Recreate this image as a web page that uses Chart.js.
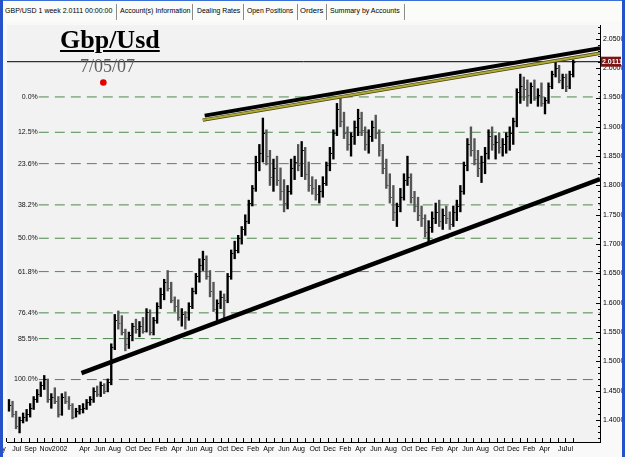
<!DOCTYPE html>
<html>
<head>
<meta charset="utf-8">
<script src="https://cdn.jsdelivr.net/npm/chart.js@4.4.1/dist/chart.umd.min.js"></script>
<style>
  html, body { margin: 0; padding: 0; }
  body { width: 625px; height: 457px; overflow: hidden; position: relative; background: #f8f8f8; font-family: "Liberation Sans", Arial, sans-serif; }
  #tabs { position: absolute; left: 0; top: 0; width: 625px; height: 21px; background: #fbfbf8; border-top: 1px solid #3d6fd8; box-sizing: border-box; }
  .tab { position: absolute; top: 5px; font-size: 8px; color: #000; white-space: nowrap; transform-origin: 0 50%; }
  .sep { position: absolute; top: 3px; width: 1px; height: 16px; background: #8a8a8a; border-right: 1px solid #fff; }
  #leftEdge { position: absolute; left: 0; top: 0; width: 3px; height: 457px; background: #2552c8; }
  #rightEdge { position: absolute; left: 622px; top: 0; width: 3px; height: 457px; background: #2552c8; }
  #chartBox { position: absolute; left: 3px; top: 21px; width: 619px; height: 436px; }
  #title { position: absolute; left: 60px; top: 27px; font: bold 26px/26px "Liberation Serif", "Times New Roman", serif; text-decoration: underline; color: #000; }
  #date { position: absolute; left: 80px; top: 57px; font: 18px/18px "Liberation Serif", "Times New Roman", serif; color: #5e5e5e; }
</style>
</head>
<body>
<div id="tabs">
  <span class="tab" data-w="107" style="left:5px">GBP/USD 1 week 2.0111 00:00:00</span>
  <div class="sep" style="left:116px"></div>
  <span class="tab" data-w="70" style="left:120px">Account(s) Information</span>
  <div class="sep" style="left:192px"></div>
  <span class="tab" data-w="43" style="left:197px">Dealing Rates</span>
  <div class="sep" style="left:243px"></div>
  <span class="tab" data-w="46" style="left:247px">Open Positions</span>
  <div class="sep" style="left:297px"></div>
  <span class="tab" data-w="23" style="left:300px">Orders</span>
  <div class="sep" style="left:326px"></div>
  <span class="tab" data-w="70" style="left:330px">Summary by Accounts</span>
  <div class="sep" style="left:404px"></div>
</div>
<div id="leftEdge"></div>
<div id="rightEdge"></div>
<div id="chartBox"><canvas id="myChart" width="619" height="436"></canvas></div>
<div id="title">Gbp/Usd</div>
<div id="date">7/05/07</div>

<script>
// squeeze tab captions into the widths of the original strip
document.querySelectorAll('.tab').forEach(el => {
  el.style.transform = 'scaleX(' + (el.dataset.w / el.offsetWidth) + ')'
})

// biweekly bars, first one is the week of 14 May 2001
const firstWeek = '2001-05-14'
const highs = [
  1.435, 1.432, 1.415, 1.405, 1.412, 1.418, 1.428, 1.440, 1.452, 1.465,
  1.476, 1.470, 1.445, 1.455, 1.440, 1.445, 1.448, 1.440, 1.428, 1.420,
  1.425, 1.428, 1.435, 1.440, 1.455, 1.458, 1.465, 1.462, 1.470, 1.530,
  1.580, 1.586, 1.578, 1.555, 1.550, 1.565, 1.572, 1.568, 1.575, 1.590,
  1.588, 1.575, 1.600, 1.625, 1.640, 1.655, 1.635, 1.610, 1.605, 1.590,
  1.585, 1.600, 1.625, 1.650, 1.675, 1.688, 1.680, 1.655, 1.635, 1.605,
  1.620, 1.615, 1.650, 1.690, 1.705, 1.715, 1.730, 1.750, 1.775, 1.800,
  1.850, 1.870, 1.915, 1.895, 1.860, 1.845, 1.850, 1.830, 1.810, 1.800,
  1.845, 1.850, 1.870, 1.875, 1.865, 1.840, 1.815, 1.810, 1.800, 1.815,
  1.840, 1.865, 1.895, 1.940, 1.951, 1.925, 1.900, 1.890, 1.910, 1.930,
  1.925, 1.900, 1.895, 1.910, 1.920, 1.895, 1.870, 1.845, 1.820, 1.800,
  1.770, 1.795, 1.820, 1.850, 1.820, 1.790, 1.780, 1.765, 1.750, 1.740,
  1.755, 1.770, 1.775, 1.760, 1.765, 1.755, 1.765, 1.775, 1.800, 1.840,
  1.880, 1.900, 1.880, 1.860, 1.850, 1.865, 1.895, 1.900, 1.885, 1.890,
  1.880, 1.890, 1.900, 1.915, 1.965, 1.990, 1.985, 1.980, 1.975, 1.980,
  1.965, 1.975, 1.950, 1.975, 1.995, 2.012, 2.005, 1.990, 1.990, 1.995,
  2.014
]
const lows = [
  1.415, 1.405, 1.385, 1.378, 1.395, 1.398, 1.405, 1.418, 1.430, 1.440,
  1.452, 1.430, 1.420, 1.428, 1.405, 1.408, 1.428, 1.418, 1.402, 1.405,
  1.410, 1.412, 1.418, 1.425, 1.430, 1.440, 1.440, 1.445, 1.448, 1.460,
  1.520, 1.555, 1.545, 1.518, 1.522, 1.535, 1.548, 1.542, 1.548, 1.550,
  1.545, 1.545, 1.565, 1.590, 1.605, 1.620, 1.600, 1.585, 1.570, 1.560,
  1.555, 1.570, 1.590, 1.615, 1.635, 1.655, 1.640, 1.610, 1.585, 1.570,
  1.590, 1.570, 1.600, 1.640, 1.675, 1.685, 1.700, 1.715, 1.735, 1.765,
  1.790, 1.825, 1.840, 1.835, 1.800, 1.790, 1.800, 1.775, 1.755, 1.760,
  1.785, 1.810, 1.825, 1.815, 1.810, 1.790, 1.785, 1.775, 1.770, 1.780,
  1.800, 1.825, 1.845, 1.885, 1.900, 1.880, 1.860, 1.850, 1.870, 1.885,
  1.885, 1.860, 1.855, 1.875, 1.880, 1.850, 1.820, 1.795, 1.770, 1.740,
  1.730, 1.755, 1.775, 1.800, 1.770, 1.755, 1.740, 1.730, 1.712, 1.705,
  1.720, 1.735, 1.730, 1.725, 1.735, 1.725, 1.730, 1.740, 1.755, 1.785,
  1.825, 1.850, 1.835, 1.815, 1.805, 1.820, 1.845, 1.860, 1.845, 1.855,
  1.850, 1.855, 1.860, 1.870, 1.900, 1.940, 1.945, 1.935, 1.940, 1.945,
  1.935, 1.935, 1.922, 1.940, 1.965, 1.985, 1.975, 1.965, 1.960, 1.965,
  1.985
]
const closes = [
  1.425, 1.410, 1.390, 1.400, 1.405, 1.410, 1.420, 1.435, 1.445, 1.460,
  1.470, 1.435, 1.440, 1.432, 1.410, 1.440, 1.432, 1.425, 1.405, 1.415,
  1.418, 1.420, 1.430, 1.435, 1.450, 1.445, 1.460, 1.450, 1.465, 1.525,
  1.570, 1.565, 1.550, 1.530, 1.545, 1.560, 1.555, 1.560, 1.552, 1.585,
  1.550, 1.570, 1.595, 1.615, 1.635, 1.625, 1.605, 1.595, 1.575, 1.580,
  1.575, 1.595, 1.620, 1.645, 1.665, 1.675, 1.645, 1.620, 1.590, 1.600,
  1.610, 1.605, 1.645, 1.685, 1.690, 1.710, 1.725, 1.740, 1.770, 1.795,
  1.840, 1.855, 1.890, 1.850, 1.815, 1.830, 1.810, 1.790, 1.770, 1.790,
  1.830, 1.840, 1.835, 1.860, 1.820, 1.800, 1.795, 1.785, 1.790, 1.805,
  1.835, 1.855, 1.890, 1.930, 1.910, 1.890, 1.870, 1.885, 1.900, 1.915,
  1.895, 1.870, 1.885, 1.900, 1.890, 1.860, 1.830, 1.800, 1.780, 1.755,
  1.765, 1.780, 1.810, 1.815, 1.780, 1.765, 1.750, 1.745, 1.720, 1.730,
  1.745, 1.755, 1.740, 1.750, 1.745, 1.735, 1.755, 1.765, 1.790, 1.835,
  1.870, 1.860, 1.845, 1.830, 1.840, 1.855, 1.885, 1.870, 1.875, 1.865,
  1.870, 1.885, 1.890, 1.910, 1.960, 1.970, 1.965, 1.955, 1.970, 1.950,
  1.955, 1.940, 1.945, 1.970, 1.990, 2.000, 1.980, 1.985, 1.970, 1.990,
  2.011
]
const lastPrice = 2.0111

// x axis labels (every other month, as shown)
const tickMonths = [
  '2001-05', '2001-07', '2001-09', '2001-11', '2002-01', '2002-04', '2002-06', '2002-08', '2002-10', '2002-12',
  '2003-02', '2003-04', '2003-06', '2003-08', '2003-10', '2003-12',
  '2004-02', '2004-04', '2004-06', '2004-08', '2004-10', '2004-12',
  '2005-02', '2005-04', '2005-06', '2005-08', '2005-10', '2005-12',
  '2006-02', '2006-04', '2006-06', '2006-08', '2006-10', '2006-12',
  '2007-02', '2007-04', '2007-06', '2007-07'
]
const tickLabels = [
  'May', 'Jul', 'Sep', 'Nov', '2002', 'Apr', 'Jun', 'Aug', 'Oct', 'Dec',
  'Feb', 'Apr', 'Jun', 'Aug', 'Oct', 'Dec',
  'Feb', 'Apr', 'Jun', 'Aug', 'Oct', 'Dec',
  'Feb', 'Apr', 'Jun', 'Aug', 'Oct', 'Dec',
  'Feb', 'Apr', 'Jun', 'Aug', 'Oct', 'Dec',
  'Feb', 'Apr', 'Ju', 'Jul'
]
const priceLabels = ['1.4000', '1.4500', '1.5000', '1.5500', '1.6000', '1.6500', '1.7000',
  '1.7500', '1.8000', '1.8500', '1.9000', '1.9500', '2.0000', '2.0500']

// fibonacci retracement drawn on the chart
const fibHigh = 1.951
const fibLow = 1.469
const fibRatios = [0, 0.125, 0.236, 0.382, 0.5, 0.618, 0.764, 0.855, 1]
const fibLabels = ['0.0%', '12.5%', '23.6%', '38.2%', '50.0%', '61.8%', '76.4%', '85.5%', '100.0%']
const fibStart = 16.9

// trend lines, [week, price] end points
const supportLine = [[41.1, 1.4799], [335.2, 1.811]]
const resistLine = [[111, 1.9191], [335.2, 2.034]]
const yellowLine = [[109.9, 1.9115], [335.2, 2.0255]]
const marker = [53.5, 1.9757]

const xMin = -1.13
const xMax = 335.2
const yMin = 1.3625
const yMax = 2.0737

const DAY = 86400000
const weekOf = s => (new Date(s + '-01T00:00:00Z') - new Date(firstWeek + 'T00:00:00Z')) / (7 * DAY)

// all monthly tick marks
const monthTicks = []
for (let y = 2001, m = 5; y < 2007 || (y === 2007 && m <= 7); m++) {
  if (m > 12) { m = 1; y++ }
  const ym = y + '-' + String(m).padStart(2, '0')
  monthTicks.push({ ym, value: weekOf(ym) })
}

const pts = a => a.map(p => ({ x: p[0], y: p[1] }))
const flat = v => [{ x: fibStart, y: v }, { x: xMax, y: v }]

const datasets = [
  { type: 'line', data: pts(resistLine), borderColor: '#000', borderWidth: 4, pointRadius: 0 },
  { type: 'line', data: pts(yellowLine), borderColor: '#b1a935', borderWidth: 2, pointRadius: 0 },
  { type: 'line', data: pts(yellowLine), borderColor: '#45430f', borderWidth: 3.5, pointRadius: 0 },
  { type: 'line', data: pts(supportLine), borderColor: '#000', borderWidth: 4.5, pointRadius: 0 },
  { type: 'scatter', data: [{ x: marker[0], y: marker[1] }], backgroundColor: '#e00000', borderWidth: 0, pointRadius: 3.3 },
  { type: 'line', data: [{ x: xMin, y: lastPrice }, { x: xMax, y: lastPrice }], borderColor: '#000', borderWidth: 1, pointRadius: 0 },
  {
    type: 'bar',
    data: highs.map((h, i) => ({ x: i * 2, y: [lows[i], h] })),
    backgroundColor: ctx => (ctx.dataIndex > 0 && closes[ctx.dataIndex] < closes[ctx.dataIndex - 1]) ? '#555' : '#000',
    barThickness: 1.7,
    borderWidth: 0
  }
]
fibRatios.forEach(r => {
  datasets.push({
    type: 'line', data: flat(fibHigh - r * (fibHigh - fibLow)),
    borderColor: '#4d8a4d', borderWidth: 1, borderDash: [10, 6], pointRadius: 0
  })
})
const barIndex = 6

const overlay = {
  id: 'overlay',
  beforeDraw(chart) {
    const { ctx, chartArea: a } = chart
    ctx.save()
    ctx.fillStyle = '#f9f9f9'
    ctx.fillRect(0, 0, chart.width, chart.height)
    ctx.fillStyle = '#f2f2f2'
    ctx.fillRect(a.left, a.top, a.right - a.left, a.bottom - a.top)
    ctx.restore()
  },
  afterDatasetsDraw(chart) {
    const { ctx, chartArea: a } = chart
    const xs = chart.scales.x, ys = chart.scales.y
    const meta = chart.getDatasetMeta(barIndex)
    ctx.save()
    ctx.beginPath()
    ctx.rect(a.left, a.top, a.right - a.left, a.bottom - a.top)
    ctx.clip()
    ctx.lineWidth = 1
    meta.data.forEach((el, i) => {
      const y = Math.round(ys.getPixelForValue(closes[i])) + 0.5
      ctx.strokeStyle = el.options.backgroundColor
      ctx.beginPath()
      ctx.moveTo(el.x, y)
      ctx.lineTo(el.x + 2.2, y)
      ctx.stroke()
    })
    ctx.restore()

    // fib labels
    ctx.save()
    ctx.font = '7px "Liberation Sans", Arial, sans-serif'
    ctx.fillStyle = '#111'
    ctx.textAlign = 'right'
    ctx.textBaseline = 'middle'
    const lx = xs.getPixelForValue(fibStart) - 1
    fibRatios.forEach((r, i) => {
      ctx.fillText(fibLabels[i], lx, ys.getPixelForValue(fibHigh - r * (fibHigh - fibLow)))
    })
    ctx.restore()
  },
  afterDraw(chart) {
    const { ctx, chartArea: a } = chart
    const xs = chart.scales.x, ys = chart.scales.y
    ctx.save()
    ctx.strokeStyle = '#000'
    ctx.lineWidth = 1
    ys.ticks.forEach(t => {
      const y = Math.round(ys.getPixelForValue(t.value)) + 0.5
      const major = t.label !== ''
      ctx.beginPath()
      ctx.moveTo(a.right - (major ? 4 : 2), y)
      ctx.lineTo(a.right, y)
      ctx.stroke()
    })
    xs.ticks.forEach(t => {
      const x = Math.round(xs.getPixelForValue(t.value)) + 0.5
      ctx.beginPath()
      ctx.moveTo(x, a.bottom - 4)
      ctx.lineTo(x, a.bottom)
      ctx.stroke()
    })
    // last price tag
    const py = ys.getPixelForValue(lastPrice)
    ctx.fillStyle = '#7d1515'
    ctx.fillRect(a.right + 1, py - 5, 20, 10)
    ctx.fillStyle = '#fff'
    ctx.font = 'bold 7px "Liberation Sans", Arial, sans-serif'
    ctx.textBaseline = 'middle'
    ctx.fillText(lastPrice.toFixed(4), a.right + 2, py + 0.5)
    ctx.restore()
  }
}

new Chart(document.getElementById('myChart'), {
  type: 'bar',
  data: { datasets },
  plugins: [overlay],
  options: {
    responsive: false,
    animation: false,
    devicePixelRatio: 1,
    layout: { padding: 0 },
    plugins: { legend: { display: false }, tooltip: { enabled: false } },
    scales: {
      x: {
        type: 'linear',
        min: xMin,
        max: xMax,
        offset: false,
        grid: { display: false, drawTicks: false },
        border: { display: true, color: '#000', width: 1 },
        afterBuildTicks: scale => { scale.ticks = monthTicks.map(t => ({ value: t.value })) },
        afterFit: scale => { scale.height = 15; scale.paddingLeft = 0; scale.paddingRight = 0 },
        ticks: {
          autoSkip: false,
          maxRotation: 0,
          align: 'end',
          padding: 3,
          color: '#000',
          font: { size: 7, family: '"Liberation Sans", Arial, sans-serif' },
          callback: (v, i) => {
            const k = tickMonths.indexOf(monthTicks[i].ym)
            return k >= 0 ? tickLabels[k] : ''
          }
        }
      },
      y: {
        type: 'linear',
        position: 'right',
        min: yMin,
        max: yMax,
        grid: { display: false, drawTicks: false },
        border: { display: true, color: '#000', width: 1 },
        afterBuildTicks: scale => {
          const t = []
          for (let k = 137; k <= 207; k++) t.push({ value: k / 100 })
          scale.ticks = t
        },
        afterFit: scale => { scale.width = 22; scale.paddingTop = 0; scale.paddingBottom = 0 },
        ticks: {
          autoSkip: false,
          padding: 3,
          color: '#000',
          font: { size: 7, family: '"Liberation Sans", Arial, sans-serif' },
          callback: v => priceLabels.find(l => Math.abs(parseFloat(l) - v) < 0.0001) || ''
        }
      }
    }
  }
})
</script>
</body>
</html>
